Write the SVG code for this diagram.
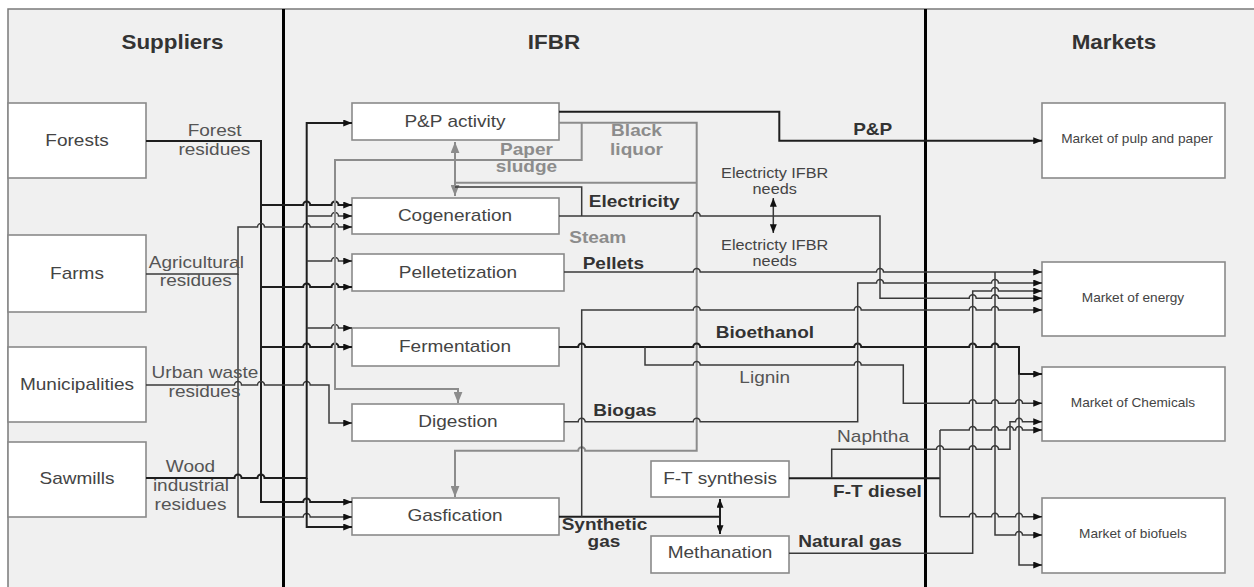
<svg xmlns="http://www.w3.org/2000/svg" width="1254" height="587" viewBox="0 0 1254 587">
<style>
.bx{fill:#fff;stroke:#8a8a8a;stroke-width:1.6}
.c{fill:none;stroke:#3a3a3a;stroke-width:1.5}
.k{fill:none;stroke:#1e1e1e;stroke-width:2}
.g{fill:none;stroke:#8c8c8c;stroke-width:2}
.t{font-family:"Liberation Sans",Arial,sans-serif;text-anchor:middle}
.h{font-size:20px;font-weight:bold;fill:#333}
.n{font-size:17px;fill:#444}
.e{font-size:17px;fill:#555}
.b{font-size:17px;font-weight:bold;fill:#333}
.gb{font-size:17px;font-weight:bold;fill:#8c8c8c}
.m{font-size:12.2px;fill:#444}
.s{font-size:14.5px;fill:#444}
</style>
<defs>
<marker id="a" viewBox="0 0 10 8" refX="10" refY="4" markerWidth="9" markerHeight="7" markerUnits="userSpaceOnUse" orient="auto-start-reverse"><path d="M0,0L10,4L0,8z" fill="#111"/></marker>
<marker id="ga" viewBox="0 0 10 8" refX="10" refY="4" markerWidth="11" markerHeight="9" markerUnits="userSpaceOnUse" orient="auto-start-reverse"><path d="M0,0L10,4L0,8z" fill="#8c8c8c"/></marker>
</defs>
<rect x="0" y="0" width="1254" height="587" fill="#fff"/>
<rect x="8" y="9" width="1250" height="585" fill="#f0f0f0" stroke="#7a7a7a" stroke-width="1.5"/>
<g id="dividers" stroke="#000" stroke-width="3">
<line x1="283.5" y1="9" x2="283.5" y2="587"/>
<line x1="925.5" y1="9" x2="925.5" y2="587"/>
</g>
<g id="forests"><rect class="bx" x="8" y="103" width="138" height="75"/></g>
<g id="farms"><rect class="bx" x="8" y="235" width="138" height="77"/></g>
<g id="municipalities"><rect class="bx" x="8" y="347" width="138" height="75"/></g>
<g id="sawmills"><rect class="bx" x="8" y="442" width="138" height="75"/></g>
<g id="pp"><rect class="bx" x="352" y="103" width="207" height="37"/></g>
<g id="cogeneration"><rect class="bx" x="352" y="198" width="207" height="36"/></g>
<g id="pelletetization"><rect class="bx" x="352" y="254" width="212" height="37"/></g>
<g id="fermentation"><rect class="bx" x="352" y="328" width="207" height="38"/></g>
<g id="digestion"><rect class="bx" x="352" y="404" width="212" height="37"/></g>
<g id="gasfication"><rect class="bx" x="352" y="498" width="207" height="37"/></g>
<g id="ftsynthesis"><rect class="bx" x="651" y="461" width="138" height="36"/></g>
<g id="methanation"><rect class="bx" x="651" y="536" width="138" height="37"/></g>
<g id="mpulp"><rect class="bx" x="1042" y="103" width="183" height="75"/></g>
<g id="menergy"><rect class="bx" x="1042" y="262" width="183" height="74"/></g>
<g id="mchem"><rect class="bx" x="1042" y="367" width="183" height="74"/></g>
<g id="mbio"><rect class="bx" x="1042" y="498" width="183" height="75"/></g>
<g id="connectors">
<path class="k" d="M146,141H261V502H303.2a3.5,3.5 0 0 1 7,0H352" marker-end="url(#a)"/>
<path class="k" d="M261,205H303.2a3.5,3.5 0 0 1 7,0H331.5a3.5,3.5 0 0 1 7,0H352" marker-end="url(#a)"/>
<path class="k" d="M261,287H303.2a3.5,3.5 0 0 1 7,0H331.5a3.5,3.5 0 0 1 7,0H352" marker-end="url(#a)"/>
<path class="k" d="M261,347H303.2a3.5,3.5 0 0 1 7,0H331.5a3.5,3.5 0 0 1 7,0H352" marker-end="url(#a)"/>
<path class="c" d="M146,274H238V227H257.5a3.5,3.5 0 0 1 7,0H303.2a3.5,3.5 0 0 1 7,0H331.5a3.5,3.5 0 0 1 7,0H352" marker-end="url(#a)"/>
<path class="c" d="M238,274V517H303.2a3.5,3.5 0 0 1 7,0H352" marker-end="url(#a)"/>
<path class="c" d="M146,385H234.5a3.5,3.5 0 0 1 7,0H257.5a3.5,3.5 0 0 1 7,0H303.2a3.5,3.5 0 0 1 7,0H329V423H352" marker-end="url(#a)"/>
<path class="k" d="M146,478H234.5a3.5,3.5 0 0 1 7,0H257.5a3.5,3.5 0 0 1 7,0H306.7V123H352" marker-end="url(#a)"/>
<path class="c" d="M306.7,216H331.5a3.5,3.5 0 0 1 7,0H352" marker-end="url(#a)"/>
<path class="c" d="M306.7,261H331.5a3.5,3.5 0 0 1 7,0H352" marker-end="url(#a)"/>
<path class="c" d="M306.7,328H331.5a3.5,3.5 0 0 1 7,0H352" marker-end="url(#a)"/>
<path class="k" d="M306.7,478V527H352" marker-end="url(#a)"/>
<path class="g" d="M581.7,122.7V160H335V389H458V403" marker-end="url(#ga)"/>
<path class="g" d="M559,122.7H696.7V450.7H585.2a3.5,3.5 0 0 0 -7,0H455V497" marker-end="url(#ga)"/>
<path class="g" d="M455,142V196" marker-start="url(#ga)" marker-end="url(#ga)"/>
<path class="g" d="M696.7,182.7H455"/>
<path class="c" d="M455,187H581.7V216"/>
<path class="c" d="M559,216H693.2a3.5,3.5 0 0 1 7,0H880V298.3H969.2a3.5,3.5 0 0 1 7,0H991.5a3.5,3.5 0 0 1 7,0H1042" marker-end="url(#a)"/>
<path class="c" d="M773.3,198V233" marker-start="url(#a)" marker-end="url(#a)"/>
<path class="k" d="M559,111.7H779.3V140.7H1042" marker-end="url(#a)"/>
<path class="c" d="M564,272H693.2a3.5,3.5 0 0 1 7,0H876.5a3.5,3.5 0 0 1 7,0H1042" marker-end="url(#a)"/>
<path class="c" d="M995,272V535H1015.5a3.5,3.5 0 0 1 7,0H1042" marker-end="url(#a)"/>
<path class="k" d="M559,516.7H720"/>
<path class="k" d="M720,499V534" marker-start="url(#a)" marker-end="url(#a)"/>
<path class="c" d="M581.7,516.7V310H693.2a3.5,3.5 0 0 1 7,0H854.2a3.5,3.5 0 0 1 7,0H969.2a3.5,3.5 0 0 1 7,0H991.5a3.5,3.5 0 0 1 7,0H1042" marker-end="url(#a)"/>
<path class="k" d="M559,347H578.2a3.5,3.5 0 0 1 7,0H693.2a3.5,3.5 0 0 1 7,0H854.2a3.5,3.5 0 0 1 7,0H969.2a3.5,3.5 0 0 1 7,0H991.5a3.5,3.5 0 0 1 7,0H1019V374H1042" marker-end="url(#a)"/>
<path class="c" d="M1019,374V565H1042" marker-end="url(#a)"/>
<path class="c" d="M645,347V365H693.2a3.5,3.5 0 0 1 7,0H854.2a3.5,3.5 0 0 1 7,0H903.3V403.3H969.2a3.5,3.5 0 0 1 7,0H991.5a3.5,3.5 0 0 1 7,0H1015.5a3.5,3.5 0 0 1 7,0H1042" marker-end="url(#a)"/>
<path class="c" d="M564,421.7H578.2a3.5,3.5 0 0 1 7,0H693.2a3.5,3.5 0 0 1 7,0H857.7V283H876.5a3.5,3.5 0 0 1 7,0H991.5a3.5,3.5 0 0 1 7,0H1042" marker-end="url(#a)"/>
<path class="c" d="M789,553.3H972.7V291H991.5a3.5,3.5 0 0 1 7,0H1042" marker-end="url(#a)"/>
<path class="k" d="M789,478.3H940"/>
<path class="c" d="M940,430V516.7"/>
<path class="c" d="M940,430H969.2a3.5,3.5 0 0 1 7,0H991.5a3.5,3.5 0 0 1 7,0H1006.5a3.5,3.5 0 0 1 7,0H1015.5a3.5,3.5 0 0 1 7,0H1042" marker-end="url(#a)"/>
<path class="c" d="M940,516.7H969.2a3.5,3.5 0 0 1 7,0H991.5a3.5,3.5 0 0 1 7,0H1015.5a3.5,3.5 0 0 1 7,0H1042" marker-end="url(#a)"/>
<path class="c" d="M831.7,478.3V449.3H936.5a3.5,3.5 0 0 1 7,0H969.2a3.5,3.5 0 0 1 7,0H991.5a3.5,3.5 0 0 1 7,0H1010V421.7H1015.5a3.5,3.5 0 0 1 7,0H1042" marker-end="url(#a)"/>
</g>
<g id="labels" class="t" transform="scale(1.12,1)">
<text class="h" x="154" y="49">Suppliers</text>
<text class="h" x="494.6" y="49">IFBR</text>
<text class="h" x="994.6" y="49">Markets</text>
<text class="n" x="68.75" y="146.5">Forests</text>
<text class="n" x="68.75" y="279">Farms</text>
<text class="n" x="68.75" y="390">Municipalities</text>
<text class="n" x="68.75" y="484">Sawmills</text>
<text class="e" x="191.6" y="136.5">Forest</text>
<text class="e" x="191.4" y="155">residues</text>
<text class="e" x="175.3" y="268">Agricultural</text>
<text class="e" x="174.8" y="286">residues</text>
<text class="e" x="183" y="378.5">Urban waste</text>
<text class="e" x="182.6" y="397.3">residues</text>
<text class="e" x="170.1" y="471.7">Wood</text>
<text class="e" x="170.5" y="491">industrial</text>
<text class="e" x="170.1" y="510">residues</text>
<text class="n" x="406.25" y="127.5">P&amp;P activity</text>
<text class="n" x="406.25" y="221">Cogeneration</text>
<text class="n" x="408.9" y="278">Pelletetization</text>
<text class="n" x="406.25" y="352">Fermentation</text>
<text class="n" x="408.9" y="427">Digestion</text>
<text class="n" x="406.25" y="521">Gasfication</text>
<text class="n" x="642.9" y="484">F-T synthesis</text>
<text class="n" x="642.9" y="558">Methanation</text>
<text class="m" x="1015.2" y="143">Market of pulp and paper</text>
<text class="m" x="1011.6" y="302">Market of energy</text>
<text class="m" x="1011.6" y="407">Market of Chemicals</text>
<text class="m" x="1011.6" y="538.5">Market of biofuels</text>
<text class="b" x="779.2" y="135">P&amp;P</text>
<text class="gb" x="470.1" y="155">Paper</text>
<text class="gb" x="470.1" y="172">sludge</text>
<text class="gb" x="568.3" y="135.7">Black</text>
<text class="gb" x="568.3" y="155">liquor</text>
<text class="b" x="566.3" y="207.3">Electricity</text>
<text class="gb" x="533.7" y="243.3">Steam</text>
<text class="b" x="547.6" y="269.3">Pellets</text>
<text class="s" x="691.7" y="178.3">Electricty IFBR</text>
<text class="s" x="691.7" y="194">needs</text>
<text class="s" x="691.7" y="250">Electricty IFBR</text>
<text class="s" x="691.7" y="265.7">needs</text>
<text class="b" x="683" y="338.3">Bioethanol</text>
<text class="e" x="682.8" y="383">Lignin</text>
<text class="b" x="558" y="415.7">Biogas</text>
<text class="e" x="779.5" y="441.7">Naphtha</text>
<text class="b" x="783.5" y="497.3">F-T diesel</text>
<text class="b" x="758.9" y="546.7">Natural gas</text>
<text class="b" x="539.7" y="530">Synthetic</text>
<text class="b" x="539.3" y="546.7">gas</text>
</g>
</svg>
